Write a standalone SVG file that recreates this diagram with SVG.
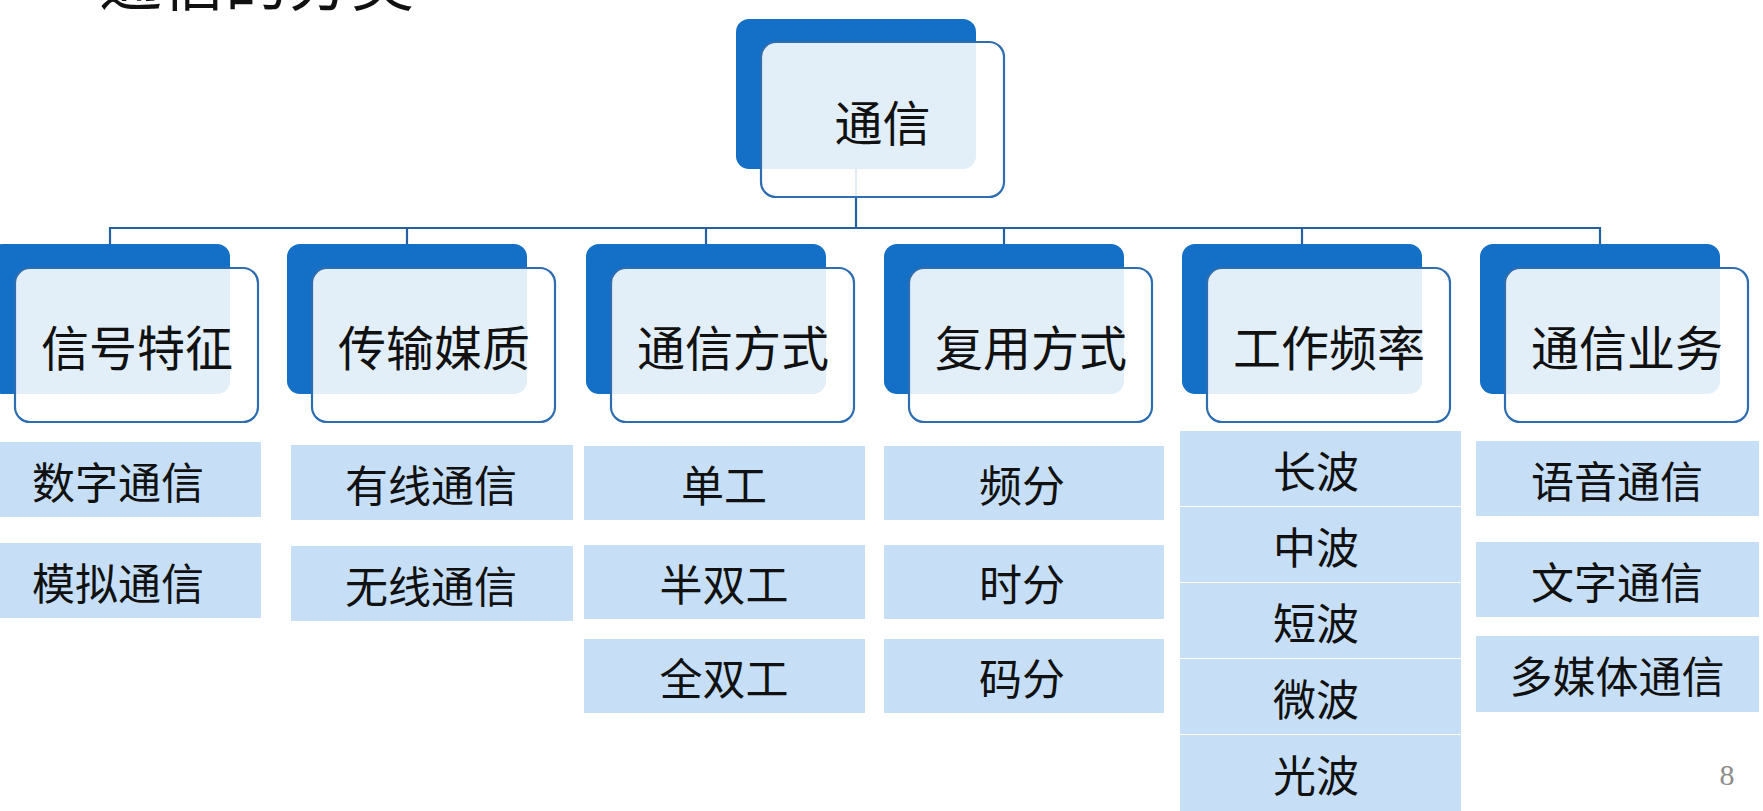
<svg xmlns="http://www.w3.org/2000/svg" width="1763" height="811" viewBox="0 0 1763 811">
<style>
.dark{fill:#1470c6}
.front{fill:#ffffff;fill-opacity:0.88;stroke:#2e6db0;stroke-width:2.2}
.leaf{fill:#c6dff6}
.t{font-family:"Noto Sans CJK SC","Noto Sans",sans-serif;fill:#111;text-anchor:middle;dominant-baseline:central}
.h{font-size:48px}
.l{font-size:43px}
.conn{fill:none;stroke:#25619f;stroke-width:2.2}
</style>
<rect width="1763" height="811" fill="#ffffff"/>
<text x="99" y="5" font-family="Noto Sans CJK SC, sans-serif" font-size="63" fill="#111">通信的分类</text>
<g id="connectors">
<path class="conn" d="M856 169V228M110 244V228H1600V244M407 228V244M706 228V244M1004 228V244M1302 228V244"/>
</g>
<g id="root">
<rect class="dark" x="736" y="19" width="240" height="150" rx="13"/>
<rect class="front" x="761" y="42" width="243" height="155" rx="15"/>
<text class="t h" x="882.5" y="119.5">通信</text>
</g>
<g id="c1">
<rect class="dark" x="-10" y="244" width="240" height="150" rx="13"/>
<rect class="front" x="15" y="268" width="243" height="154" rx="15"/>
<text class="t h" x="137" y="345">信号特征</text>
</g>
<g id="c2">
<rect class="dark" x="287" y="244" width="240" height="150" rx="13"/>
<rect class="front" x="312" y="268" width="243" height="154" rx="15"/>
<text class="t h" x="434" y="345">传输媒质</text>
</g>
<g id="c3">
<rect class="dark" x="586" y="244" width="240" height="150" rx="13"/>
<rect class="front" x="611" y="268" width="243" height="154" rx="15"/>
<text class="t h" x="733" y="345">通信方式</text>
</g>
<g id="c4">
<rect class="dark" x="884" y="244" width="240" height="150" rx="13"/>
<rect class="front" x="909" y="268" width="243" height="154" rx="15"/>
<text class="t h" x="1031" y="345">复用方式</text>
</g>
<g id="c5">
<rect class="dark" x="1182" y="244" width="240" height="150" rx="13"/>
<rect class="front" x="1207" y="268" width="243" height="154" rx="15"/>
<text class="t h" x="1329" y="345">工作频率</text>
</g>
<g id="c6">
<rect class="dark" x="1480" y="244" width="240" height="150" rx="13"/>
<rect class="front" x="1505" y="268" width="243" height="154" rx="15"/>
<text class="t h" x="1627" y="345" fill="#2a2a2a">通信业务</text>
</g>
<g id="c1-items">
<rect class="leaf" x="-25" y="442" width="286" height="75"/>
<text class="t l" x="118" y="479.5">数字通信</text>
<rect class="leaf" x="-25" y="543" width="286" height="75"/>
<text class="t l" x="118" y="580.5">模拟通信</text>
</g>
<g id="c2-items">
<rect class="leaf" x="291" y="445" width="282" height="75"/>
<text class="t l" x="431" y="482.5">有线通信</text>
<rect class="leaf" x="291" y="546" width="282" height="75"/>
<text class="t l" x="431" y="583.5">无线通信</text>
</g>
<g id="c3-items">
<rect class="leaf" x="584" y="446" width="281" height="74"/>
<text class="t l" x="724" y="483">单工</text>
<rect class="leaf" x="584" y="545" width="281" height="74"/>
<text class="t l" x="724" y="582">半双工</text>
<rect class="leaf" x="584" y="639" width="281" height="74"/>
<text class="t l" x="724" y="676">全双工</text>
</g>
<g id="c4-items">
<rect class="leaf" x="884" y="446" width="280" height="74"/>
<text class="t l" x="1022" y="483">频分</text>
<rect class="leaf" x="884" y="545" width="280" height="74"/>
<text class="t l" x="1022" y="582">时分</text>
<rect class="leaf" x="884" y="639" width="280" height="74"/>
<text class="t l" x="1022" y="676">码分</text>
</g>
<g id="c5-items">
<rect class="leaf" x="1180" y="431" width="281" height="75"/>
<text class="t l" x="1316" y="468.5">长波</text>
<rect class="leaf" x="1180" y="507" width="281" height="75"/>
<text class="t l" x="1316" y="544.5">中波</text>
<rect class="leaf" x="1180" y="583" width="281" height="75"/>
<text class="t l" x="1316" y="620.5">短波</text>
<rect class="leaf" x="1180" y="659" width="281" height="75"/>
<text class="t l" x="1316" y="696.5">微波</text>
<rect class="leaf" x="1180" y="735" width="281" height="76"/>
<text class="t l" x="1316" y="773">光波</text>
</g>
<g id="c6-items">
<rect class="leaf" x="1476" y="441" width="283" height="75"/>
<text class="t l" x="1617" y="478.5">语音通信</text>
<rect class="leaf" x="1476" y="542" width="283" height="75"/>
<text class="t l" x="1617" y="579.5">文字通信</text>
<rect class="leaf" x="1476" y="636" width="283" height="76"/>
<text class="t l" x="1617" y="674">多媒体通信</text>
</g>
<text x="1727" y="785" font-family="Liberation Serif, serif" font-size="30" fill="#8c8c8c" text-anchor="middle">8</text>
</svg>
